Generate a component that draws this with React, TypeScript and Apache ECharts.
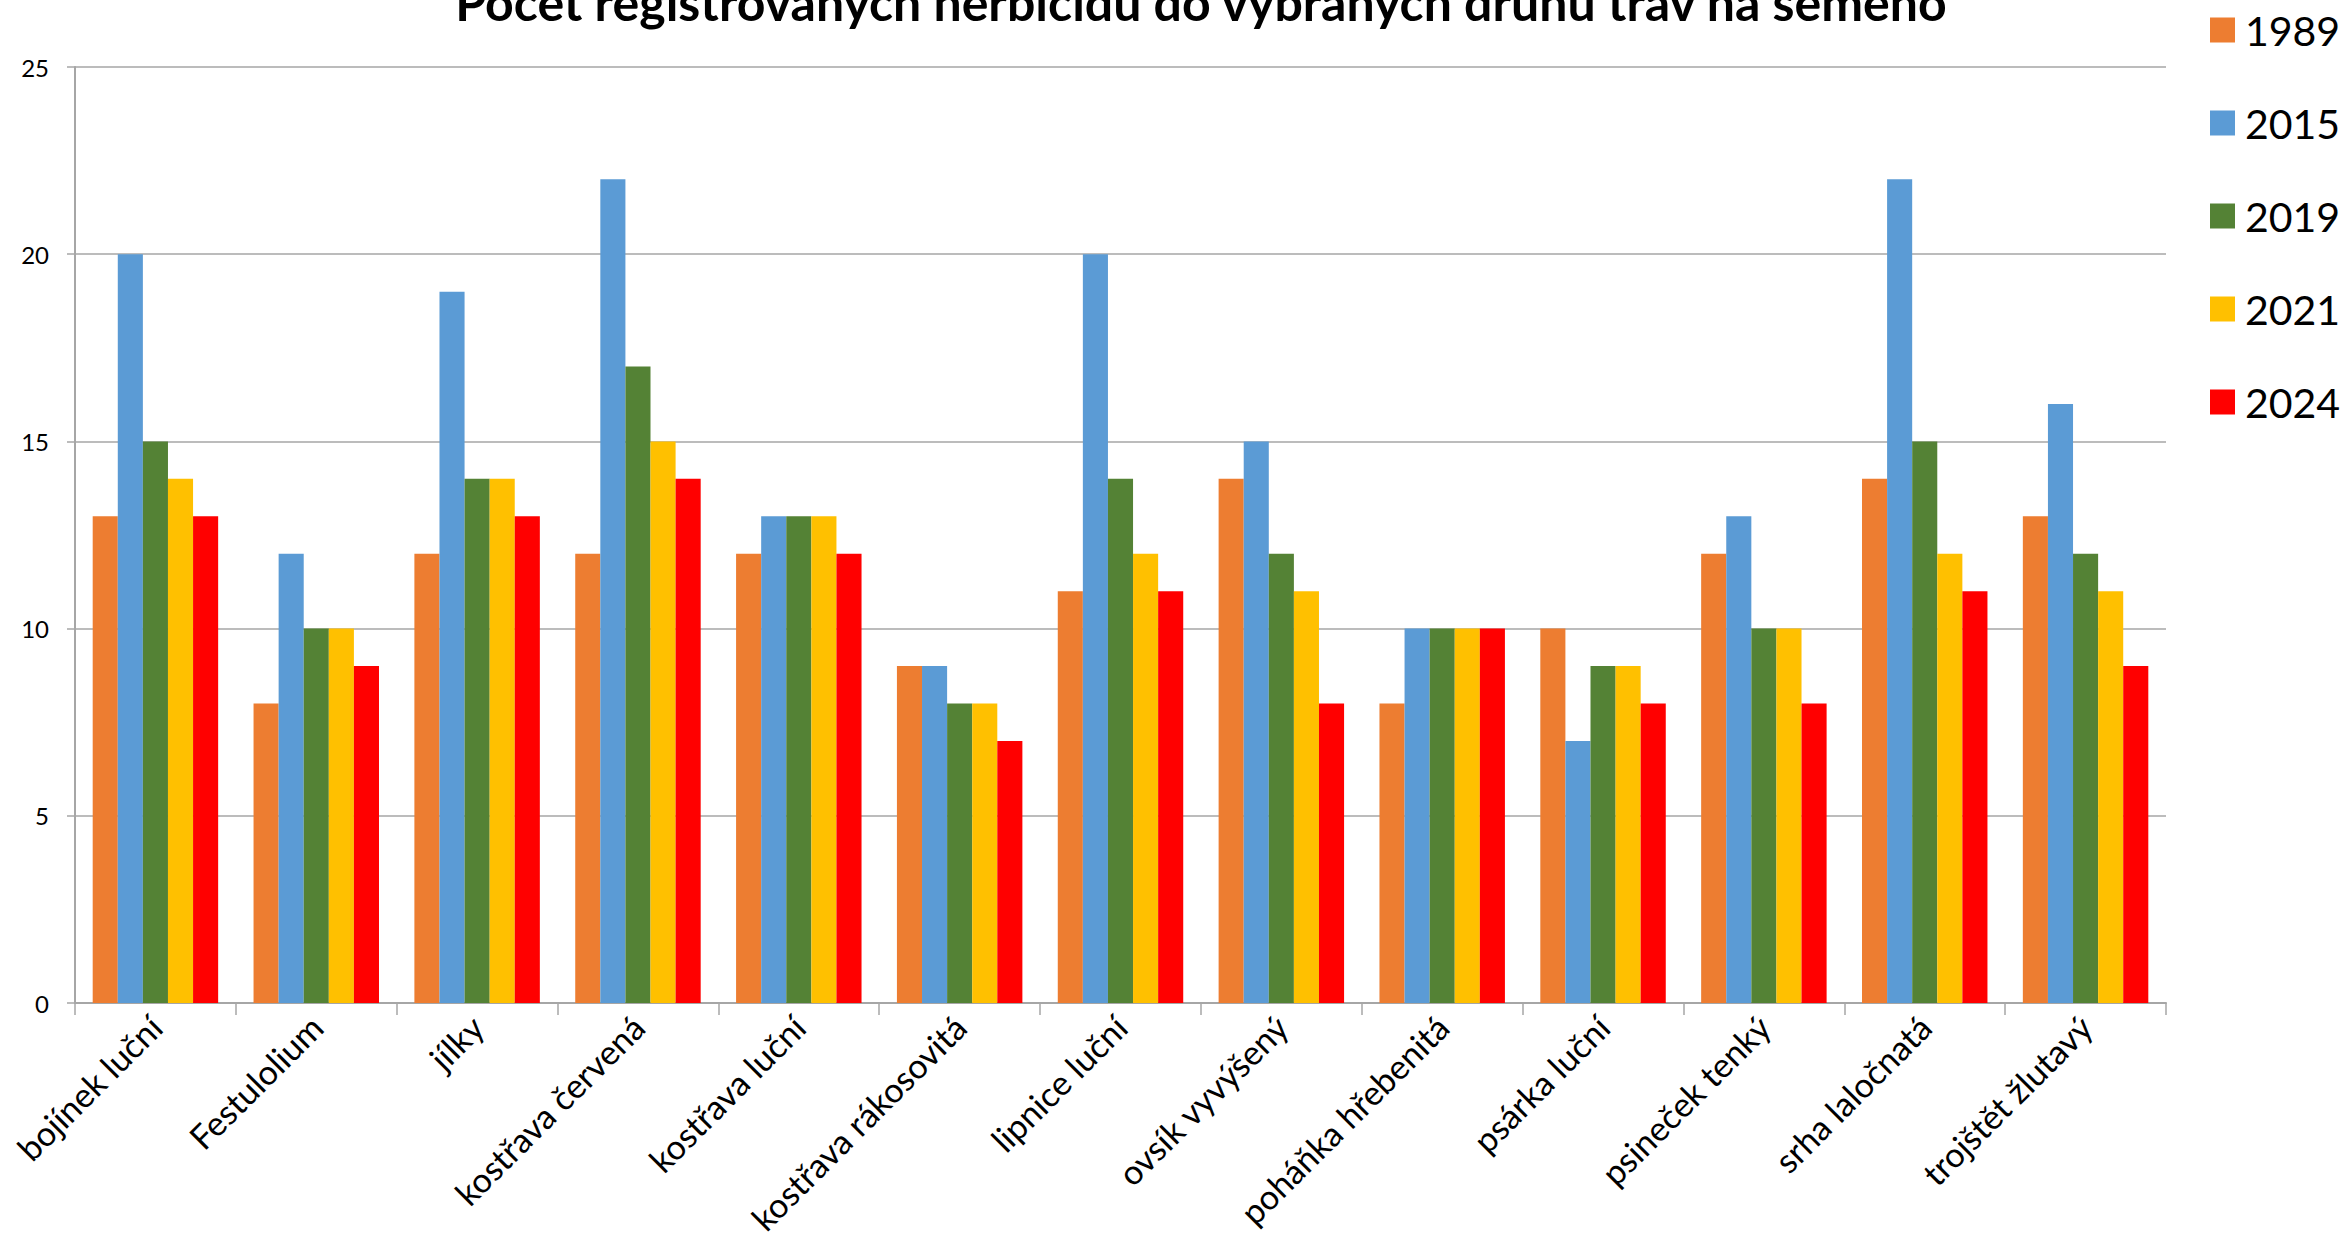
import React, { useEffect, useRef } from "react";
import * as echarts from "echarts";

const titleText = "Počet registrovaných herbicidů do vybraných druhů trav na semeno";
const categories = [
  "bojínek luční",
  "Festulolium",
  "jílky",
  "kostřava červená",
  "kostřava luční",
  "kostřava rákosovitá",
  "lipnice luční",
  "ovsík vyvýšený",
  "poháňka hřebenitá",
  "psárka luční",
  "psineček tenký",
  "srha laločnatá",
  "trojštět žlutavý",
];
const seriesNames = ["1989", "2015", "2019", "2021", "2024"];
const colors = ["#ED7D31", "#5B9BD5", "#548235", "#FFC000", "#FF0000"];
const v1989 = [13, 8, 12, 12, 12, 9, 11, 14, 8, 10, 12, 14, 13];
const v2015 = [20, 12, 19, 22, 13, 9, 20, 15, 10, 7, 13, 22, 16];
const v2019 = [15, 10, 14, 17, 13, 8, 14, 12, 10, 9, 10, 15, 12];
const v2021 = [14, 10, 14, 15, 13, 8, 12, 11, 10, 9, 10, 12, 11];
const v2024 = [13, 9, 13, 14, 12, 7, 11, 8, 10, 8, 8, 11, 9];
const allValues = [v1989, v2015, v2019, v2021, v2024];

const FONT = "Lato, 'Open Sans', sans-serif";

export default function App() {
  const ref = useRef<HTMLDivElement>(null);
  useEffect(() => {
    document.body.style.margin = "0";
    if (!ref.current) return;
    const chart = echarts.init(ref.current, undefined, { renderer: "svg" });
    chart.setOption({
      animation: false,
      backgroundColor: "#ffffff",
      textStyle: { fontFamily: FONT },
      graphic: [
        {
          type: "text",
          x: 1201,
          y: 27,
          style: {
            text: titleText,
            fontFamily: FONT,
            fontWeight: "bold",
            fontSize: 50,
            fill: "#000000",
            align: "center",
            verticalAlign: "bottom",
          },
        },
      ],
      legend: {
        orient: "vertical",
        left: 2205,
        top: 3,
        itemWidth: 25,
        itemHeight: 25,
        itemGap: 49,
        icon: "rect",
        data: seriesNames,
        textStyle: {
          fontFamily: FONT,
          fontSize: 41,
          color: "#000000",
          lineHeight: 44,
          padding: [0, 0, 0, 5],
        },
      },
      grid: { left: 75, right: 178, top: 67, bottom: 257, containLabel: false },
      xAxis: {
        type: "category",
        data: categories,
        axisLine: { show: true, lineStyle: { color: "#A6A6A6", width: 2 } },
        axisTick: { show: true, length: 12, lineStyle: { color: "#A6A6A6", width: 1.5 } },
        axisLabel: {
          rotate: 45,
          interval: 0,
          margin: 18,
          fontSize: 34,
          fontFamily: FONT,
          color: "#000000",
        },
      },
      yAxis: {
        type: "value",
        min: 0,
        max: 25,
        interval: 5,
        axisLine: { show: true, lineStyle: { color: "#A6A6A6", width: 2 } },
        axisTick: { show: true, length: 8, lineStyle: { color: "#A6A6A6", width: 1.5 } },
        splitLine: { show: true, lineStyle: { color: "#A6A6A6", width: 1.5 } },
        axisLabel: {
          fontSize: 24,
          margin: 26,
          fontFamily: FONT,
          color: "#000000",
        },
      },
      series: seriesNames.map((name, i) => ({
        name,
        type: "bar",
        data: allValues[i],
        barGap: "0%",
        barCategoryGap: "22%",
        itemStyle: { color: colors[i] },
      })),
    });
    return () => chart.dispose();
  }, []);
  return <div ref={ref} style={{ width: 2344, height: 1260 }} />;
}
